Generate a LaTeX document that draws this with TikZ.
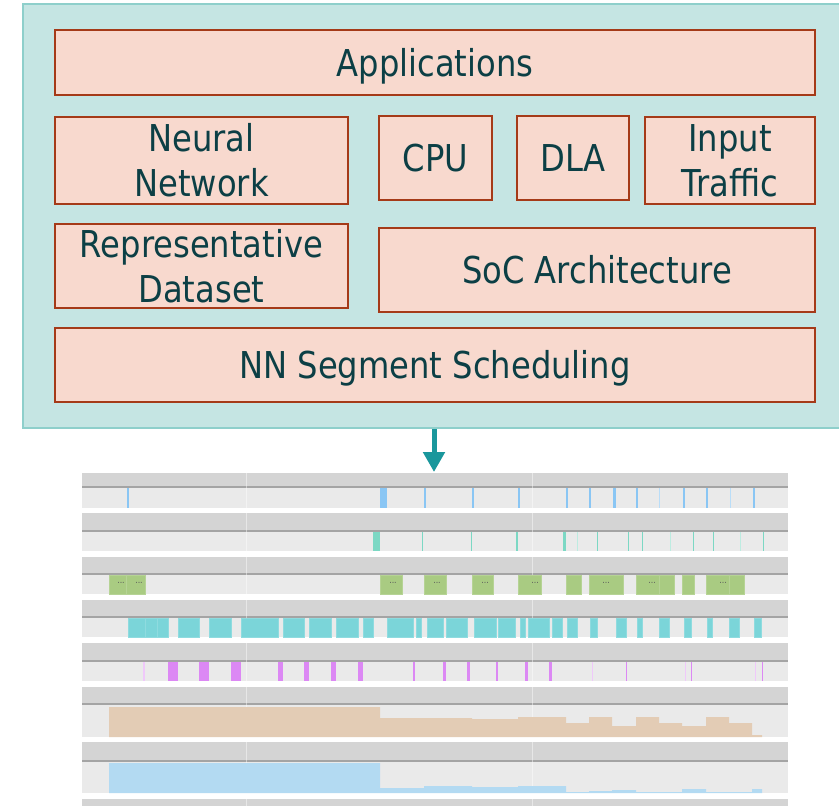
\documentclass[tikz,border=0pt]{standalone}
\usepackage{fontspec}
\setmainfont{DejaVu Sans}[FakeStretch=0.87]
\usetikzlibrary{arrows.meta}
\definecolor{panelfill}{HTML}{C5E5E3}
\definecolor{panelline}{HTML}{8ECFCB}
\definecolor{boxfill}{HTML}{F8D9CE}
\definecolor{boxline}{HTML}{A53A18}
\definecolor{txt}{HTML}{0C3F45}
\definecolor{arrowc}{HTML}{1A979C}
\definecolor{hdr}{HTML}{D4D4D4}
\definecolor{hdrline}{HTML}{A4A4A4}
\definecolor{lane}{HTML}{EAEAEA}
\definecolor{cblue}{HTML}{8AC6F4}
\definecolor{cteal}{HTML}{7CD8C4}
\definecolor{cgreen}{HTML}{A9CB82}
\definecolor{ccyan}{HTML}{7BD5D9}
\definecolor{cmag}{HTML}{DC88F4}
\definecolor{ctan}{HTML}{E3CCB5}
\definecolor{cfill}{HTML}{B3DAF2}
\begin{document}
\begin{tikzpicture}[x=1pt,y=-1pt,
  panel/.style={draw=panelline,fill=panelfill,line width=2pt,inner sep=0pt},
  box/.style={draw=boxline,fill=boxfill,line width=2pt,text=txt,align=center,inner sep=0pt,
    font=\fontsize{37}{45}\selectfont},
  oneline/.style={text height=27pt,text depth=0pt},
  arr/.style={draw=arrowc,line width=5pt,-{Triangle[width=21pt,length=20pt]}},
  dots/.style={text=black!65,inner sep=0pt,font=\fontsize{9}{9}\selectfont}
]
\useasboundingbox (0,0) rectangle (839,806);
\fill[white] (0,0) rectangle (839,806);

% ---- top panel ----
\node[panel,minimum width=822pt,minimum height=424pt] (panel) at (434,216) {};
\node[box,oneline,minimum width=760pt,minimum height=65pt] (app) at (435,62.5) {Applications};
\node[box,minimum width=293pt,minimum height=87pt] (nn) at (201.5,160.5) {Neural\\Network};
\node[box,oneline,minimum width=113pt,minimum height=84pt] (cpu) at (435.5,158) {CPU};
\node[box,oneline,minimum width=112pt,minimum height=84pt] (dla) at (573,158) {DLA};
\node[box,minimum width=170pt,minimum height=87pt] (inp) at (730,160.5) {Input\\Traffic};
\node[box,minimum width=293pt,minimum height=84pt] (rep) at (201.5,266) {Representative\\Dataset};
\node[box,oneline,minimum width=436pt,minimum height=84pt] (soc) at (597,269.5) {SoC Architecture};
\node[box,oneline,minimum width=760pt,minimum height=74pt] (seg) at (435,364.5) {NN Segment Scheduling};

\coordinate (tl) at (434,472);
\draw[arr] (panel.south) -- (tl);

% ---- timeline backgrounds ----
\foreach \ht/\hb/\lb in {473/487/508, 513/531/551, 557/574/594, 600/617/637, 643/661/681, 687/704/737, 742/761/793}{
  \fill[hdr] (82,\ht) rectangle (788,\hb);
  \fill[lane] (82,\hb) rectangle (788,\lb);
  \draw[hdrline,line width=1.5pt] (82,\hb) -- (788,\hb);
}
\fill[hdr] (82,799) rectangle (788,806);
\foreach \xx in {246,532}{
  \draw[white,opacity=0.45,line width=1pt] (\xx,473) -- (\xx,806);
}

% row 1
\foreach \a/\b in {126.5/128.5,380/386.5,423.5/425.5,471.5/473.5,518/520,565.5/567.5,589/591,612.5/616,635.5/637.5,682.5/684.5,705.5/707.5,752.5/754.5}
  \fill[cblue] (\a,488) rectangle (\b,508);
\foreach \a/\b in {658.5/660,729.5/731}
  \fill[cblue!60] (\a,488) rectangle (\b,508);
% row 2
\foreach \a/\b in {373/379.5,421.5/423,470.5/472,515.5/517.5,562.5/566,597/598,627.5/628.5,642/643,692.5/694,712.5/713.5,762.5/764}
  \fill[cteal] (\a,532) rectangle (\b,551);
\foreach \a/\b in {576.5/577.5,669.5/670.5,739.5/740.5}
  \fill[cteal!50] (\a,532) rectangle (\b,551);
% row 3
\foreach \a/\b in {109/126,126/145,380/402,424/446,472/493,518/541,566/581,589/623,636/659,659/674,682/694,706/729,729/744}
  \fill[cgreen,draw=cgreen!85!white,line width=0.4pt] (\a,575) rectangle (\b,594);
\foreach \d in {121,139,393,437,485,535,606,652,723}
  \node[dots] at (\d,583) {...};
% row 4
\foreach \a/\b in {128/145,145/157,157/168,178/199,209/231,241/278,283/304,309/331,336/358,363/373,387/413,416/421,427/443,446/467,474/496,498/515,520/525,528/549,552/562,567/577,590/597,616/626,637/642,659/669,684/691,707/712,729/739,754/761}
  \fill[ccyan,draw=ccyan!85!white,line width=0.4pt] (\a,618) rectangle (\b,637);
% row 5
\foreach \a/\b in {168/178,199/209,231/241,278/283,304/309,331/336,358/363,413/415,443/446,467/470,496/498,525/528,549/552,625.5/627,690.5/692,761.5/763}
  \fill[cmag] (\a,662) rectangle (\b,681);
\foreach \a/\b in {143/145,591.5/593,684.5/685.5,754.5/755.5}
  \fill[cmag!45] (\a,662) rectangle (\b,681);
% row 6
\fill[ctan] (109,737) -- (109,707) -- (380,707) -- (380,718) -- (472,718) -- (472,719) -- (518,719) -- (518,717) -- (566,717) -- (566,723) -- (589,723) -- (589,717) -- (612,717) -- (612,726) -- (636,726) -- (636,717) -- (659,717) -- (659,723) -- (682,723) -- (682,726) -- (706,726) -- (706,717) -- (729,717) -- (729,723) -- (752,723) -- (752,735) -- (762,735) -- (762,737) -- cycle;
% row 7
\fill[cfill] (109,793) -- (109,763) -- (380,763) -- (380,788) -- (424,788) -- (424,786) -- (472,786) -- (472,787) -- (518,787) -- (518,786) -- (566,786) -- (566,792) -- (589,792) -- (589,791) -- (612,791) -- (612,790) -- (636,790) -- (636,792) -- (682,792) -- (682,789) -- (706,789) -- (706,792) -- (752,792) -- (752,789) -- (762,789) -- (762,793) -- cycle;
\end{tikzpicture}
\end{document}
